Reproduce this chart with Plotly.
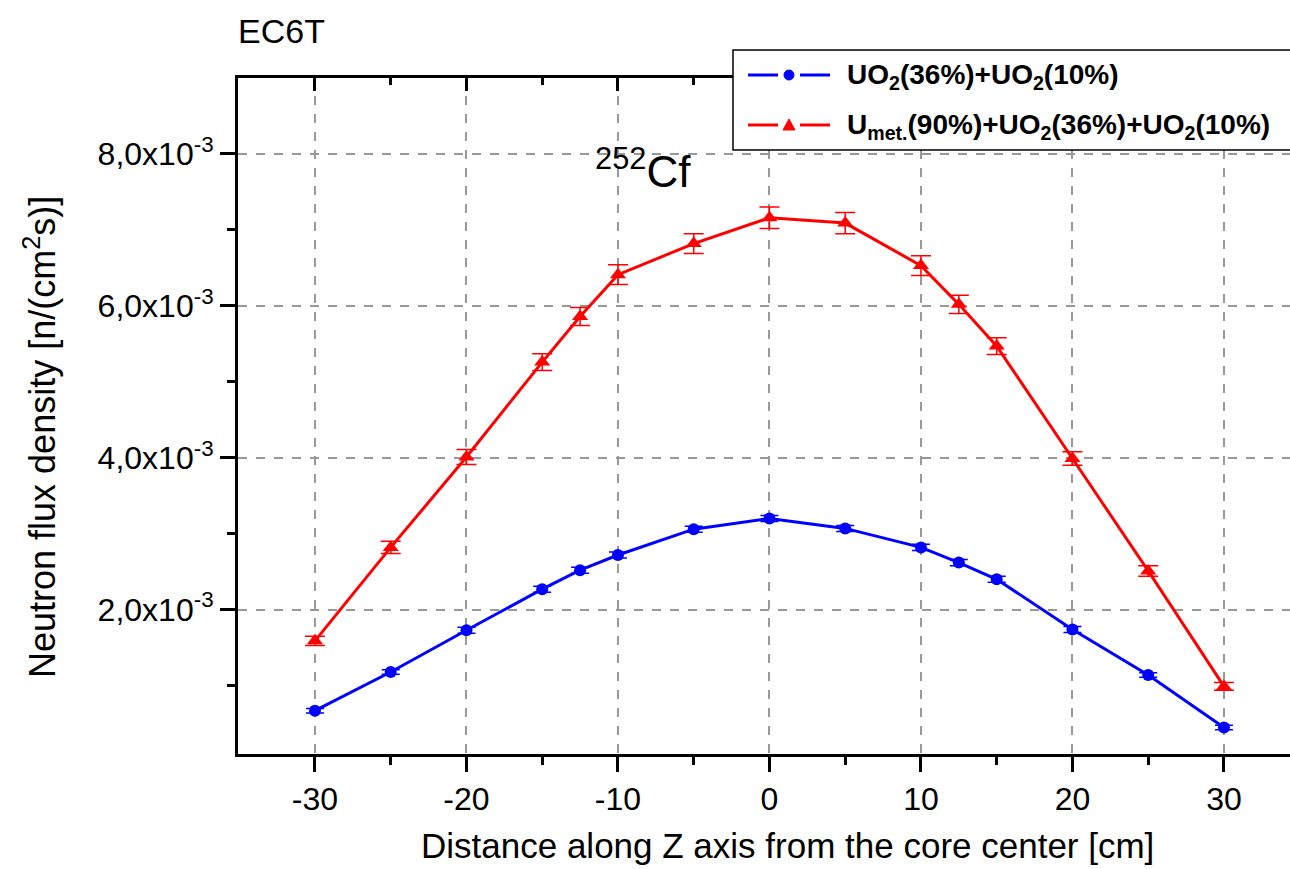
import plotly.graph_objects as go

# ---- data (values in units of 1e-3 n/(cm^2 s)) ----
z_cm = [-30, -25, -20, -15, -12.5, -10, -5, 0, 5, 10, 12.5, 15, 20, 25, 30]
uo2_flux = [0.67, 1.18, 1.73, 2.27, 2.52, 2.72, 3.06, 3.20, 3.07, 2.82, 2.62, 2.40, 1.74, 1.14, 0.45]
uo2_err = [0.03, 0.03, 0.04, 0.04, 0.04, 0.04, 0.04, 0.04, 0.04, 0.04, 0.04, 0.04, 0.04, 0.03, 0.03]
umet_flux = [1.59, 2.82, 4.01, 5.26, 5.86, 6.41, 6.82, 7.16, 7.09, 6.53, 6.02, 5.47, 3.99, 2.51, 0.99]
umet_err = [0.06, 0.08, 0.10, 0.11, 0.12, 0.13, 0.13, 0.14, 0.14, 0.13, 0.12, 0.11, 0.09, 0.07, 0.05]

x_major = [-30, -20, -10, 0, 10, 20, 30]
x_major_text = ["-30", "-20", "-10", "0", "10", "20", "30"]
x_minor = [-25, -15, -5, 5, 15, 25]
y_major = [2e-3, 4e-3, 6e-3, 8e-3]
y_major_text = ["2,0x10<sup>-3</sup>", "4,0x10<sup>-3</sup>", "6,0x10<sup>-3</sup>", "8,0x10<sup>-3</sup>"]
y_minor = [1e-3, 3e-3, 5e-3, 7e-3]

series_names = ["<b>UO<sub>2</sub>(36%)+UO<sub>2</sub>(10%)</b>",
                "<b>U<sub>met.</sub>(90%)+UO<sub>2</sub>(36%)+UO<sub>2</sub>(10%)</b>"]

FONT = "Liberation Sans, Arial, sans-serif"
BLUE = "#0000FF"
RED = "#FF0000"

W, H = 1290, 869
ML, MR, MT, MB = 238, 0, 78, 115
PW = W - ML - MR
PH = H - MT - MB


def px(xp):
    return (xp - ML) / PW


def py(yp):
    return (H - MB - yp) / PH


fig = go.Figure()
fig.add_trace(go.Scatter(
    x=z_cm, y=[v * 1e-3 for v in uo2_flux],
    error_y=dict(type="data", array=[e * 1e-3 for e in uo2_err], color=BLUE, thickness=1.5, width=9),
    mode="lines+markers", line=dict(color=BLUE, width=3),
    marker=dict(symbol="circle", size=12, color=BLUE),
    name=series_names[0], showlegend=False))
fig.add_trace(go.Scatter(
    x=z_cm, y=[v * 1e-3 for v in umet_flux],
    error_y=dict(type="data", array=[e * 1e-3 for e in umet_err], color=RED, thickness=1.5, width=10),
    mode="lines+markers", line=dict(color=RED, width=3),
    marker=dict(symbol="triangle-up", size=14, color=RED),
    name=series_names[1], showlegend=False))
# empty trace to host the top axis
fig.add_trace(go.Scatter(x=[], y=[], xaxis="x2", showlegend=False, hoverinfo="skip"))

xr = [-35.08, 34.36]
fig.update_layout(
    width=W, height=H,
    margin=dict(l=ML, r=MR, t=MT, b=MB, autoexpand=False),
    paper_bgcolor="white", plot_bgcolor="white",
    font=dict(family=FONT, color="black"),
    xaxis=dict(range=xr, tickvals=x_major, ticktext=x_major_text, ticks="outside", ticklen=15,
               tickwidth=3, tickcolor="black", showline=True, linewidth=3, linecolor="black",
               showgrid=True, gridcolor="#999999", griddash="dash", gridwidth=1.5,
               zeroline=False, tickfont=dict(size=32, family=FONT),
               minor=dict(tickvals=x_minor, ticks="outside", ticklen=8, tickwidth=3,
                          tickcolor="black", showgrid=False)),
    xaxis2=dict(range=xr, overlaying="x", side="top", anchor="y", tickvals=x_major,
                ticks="inside", ticklen=13, tickwidth=3, tickcolor="black",
                showline=True, linewidth=3, linecolor="black", showgrid=False,
                zeroline=False, showticklabels=False,
                minor=dict(tickvals=x_minor, ticks="inside", ticklen=7, tickwidth=3,
                           tickcolor="black", showgrid=False)),
    yaxis=dict(range=[0.1e-3, 9.0e-3], tickvals=y_major, ticktext=y_major_text,
               ticks="outside", ticklen=15, tickwidth=3, tickcolor="black",
               showline=True, linewidth=3, linecolor="black",
               showgrid=True, gridcolor="#999999", griddash="dash", gridwidth=1.5,
               zeroline=False, tickfont=dict(size=32, family=FONT),
               minor=dict(tickvals=y_minor, ticks="outside", ticklen=8, tickwidth=3,
                          tickcolor="black", showgrid=False)),
    showlegend=False,
)

annotations = [
    dict(text="Distance along Z axis from the core center [cm]", x=px(787), y=py(867),
         xref="paper", yref="paper", showarrow=False, xanchor="center", yanchor="bottom",
         font=dict(size=35, family=FONT)),
    dict(text="Neutron flux density [n/(cm<sup>2</sup>s)]", x=px(40), y=py(437),
         xref="paper", yref="paper", showarrow=False, xanchor="center", yanchor="middle",
         textangle=-90, font=dict(size=36, family=FONT)),
    dict(text="EC6T", x=px(236), y=py(31), xref="paper", yref="paper", showarrow=False,
         xanchor="left", yanchor="middle", font=dict(size=34, family=FONT)),
    dict(text="<sup>252</sup>Cf", x=px(643), y=py(168), xref="paper", yref="paper",
         showarrow=False, xanchor="center", yanchor="middle", font=dict(size=44, family=FONT)),
]

# legend box (drawn manually to reproduce the line-marker-line glyphs)
shapes = [dict(type="rect", xref="paper", yref="paper", x0=px(733), x1=px(1310),
               y0=py(150), y1=py(50), fillcolor="white", line=dict(color="black", width=1.5),
               layer="above")]
rows = [(75, BLUE, "circle", series_names[0]), (125, RED, "triangle", series_names[1])]
for yc, col, sym, label in rows:
    for a, b in [(748, 778), (800, 830)]:
        shapes.append(dict(type="line", xref="paper", yref="paper", x0=px(a), x1=px(b),
                           y0=py(yc), y1=py(yc), line=dict(color=col, width=3), layer="above"))
    if sym == "circle":
        shapes.append(dict(type="circle", xref="paper", yref="paper", x0=px(784), x1=px(794),
                           y0=py(yc + 5), y1=py(yc - 5), fillcolor=col, line=dict(color=col, width=1),
                           layer="above"))
    else:
        shapes.append(dict(type="path", xref="paper", yref="paper",
                           path=f"M {px(783)} {py(yc + 5)} L {px(795)} {py(yc + 5)} L {px(789)} {py(yc - 6)} Z",
                           fillcolor=col, line=dict(color=col, width=1), layer="above"))
    annotations.append(dict(text=label, x=px(845), y=py(yc + 2), xref="paper", yref="paper",
                            showarrow=False, xanchor="left", yanchor="middle",
                            font=dict(size=28, family=FONT, color="black")))

fig.update_layout(annotations=annotations, shapes=shapes)
fig.write_html("out.html")
